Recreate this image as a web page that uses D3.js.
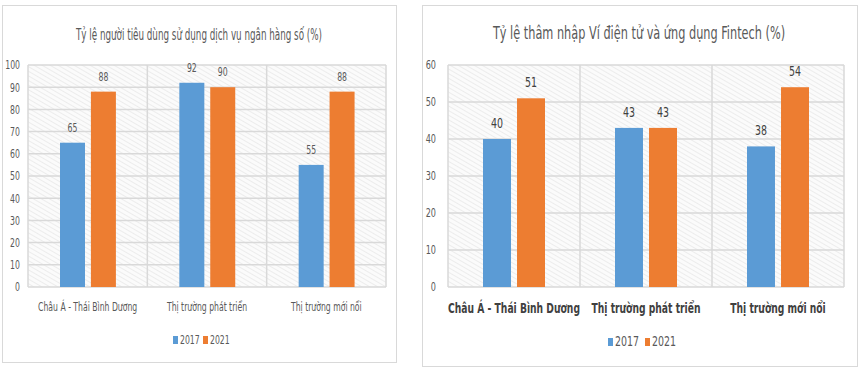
<!DOCTYPE html>
<html lang="vi">
<head>
  <meta charset="UTF-8">
  <title>Ngân hàng số &amp; Fintech</title>
  <script src="https://d3js.org/d3.v7.min.js"></script>
  <style>
    body { margin: 0; background: #fff; }
    text { font-family: "DejaVu Sans Condensed", "DejaVu Sans", sans-serif; }
  </style>
</head>
<body>
  <svg id="chart" width="861" height="369"></svg>
  <script>
    // data
    const categories = ['Châu Á - Thái Bình Dương', 'Thị trường phát triển', 'Thị trường mới nổi'];
    const years = ['2017', '2021'];
    const bank2017 = [65, 92, 55];
    const bank2021 = [88, 90, 88];
    const fintech2017 = [40, 43, 38];
    const fintech2021 = [51, 43, 54];
    const bankTicks = [0, 10, 20, 30, 40, 50, 60, 70, 80, 90, 100];
    const fintechTicks = [0, 10, 20, 30, 40, 50, 60];

    const colors = { '2017': '#5b9bd5', '2021': '#ed7d31' };

    const svg = d3.select('svg#chart');

    // squeeze text horizontally (reference font is much narrower)
    function squeeze(sel, k) {
      sel.each(function () {
        const t = d3.select(this);
        const x = +t.attr('x') || 0, y = +t.attr('y') || 0;
        t.attr('x', 0).attr('y', 0)
          .attr('transform', `translate(${x},${y}) scale(${k},1)`);
      });
    }

    // hatch pattern for plot background
    const defs = svg.append('defs');
    const pat = defs.append('pattern')
      .attr('id', 'hatch')
      .attr('patternUnits', 'userSpaceOnUse')
      .attr('width', 4).attr('height', 4)
      .attr('patternTransform', 'rotate(-60)');
    pat.append('rect').attr('width', 4).attr('height', 4).attr('fill', '#fbfbfb');
    pat.append('line').attr('x1', 0).attr('y1', 0).attr('x2', 0).attr('y2', 4)
      .attr('stroke', '#e2e2e2').attr('stroke-width', 1.2);

    function drawPanel(cfg) {
      const g = svg.append('g');

      // outer frame
      g.append('rect')
        .attr('x', cfg.frame[0] + 0.5).attr('y', cfg.frame[1] + 0.5)
        .attr('width', cfg.frame[2]).attr('height', cfg.frame[3])
        .attr('fill', '#fff').attr('stroke', '#d9d9d9').attr('stroke-width', 1);

      const x = d3.scaleBand().domain(categories).range([cfg.left, cfg.right]);
      const y = d3.scaleLinear().domain([0, cfg.max]).range([cfg.bottom, cfg.top]);
      const x1 = d3.scaleBand().domain(years)
        .range([cfg.barStart, cfg.barStart + cfg.barW * 2 + cfg.barGap])
        .paddingInner(cfg.barGap / (cfg.barW * 2 + cfg.barGap));

      // plot background
      g.append('rect')
        .attr('x', cfg.left).attr('y', cfg.top)
        .attr('width', cfg.right - cfg.left).attr('height', cfg.bottom - cfg.top)
        .attr('fill', 'url(#hatch)');

      // horizontal gridlines
      g.append('g').selectAll('line').data(cfg.ticks).join('line')
        .attr('x1', cfg.left).attr('x2', cfg.right)
        .attr('y1', d => y(d)).attr('y2', d => y(d))
        .attr('stroke', '#d9d9d9').attr('stroke-width', 1.5);

      // vertical separators
      const seps = [cfg.left].concat(categories.map(c => x(c) + x.bandwidth()));
      g.append('g').selectAll('line').data(seps).join('line')
        .attr('x1', d => d).attr('x2', d => d)
        .attr('y1', cfg.top).attr('y2', cfg.bottom)
        .attr('stroke', '#d9d9d9').attr('stroke-width', 1.5);

      // y tick labels
      const yAxis = g.append('g')
        .attr('transform', `translate(${cfg.left},0)`)
        .call(d3.axisLeft(y).tickValues(cfg.ticks).tickSize(0).tickPadding(cfg.tickPad));
      yAxis.select('.domain').remove();
      yAxis.attr('font-family', null);
      yAxis.selectAll('text')
        .attr('font-size', cfg.tickSize).attr('fill', '#595959')
        .call(squeeze, cfg.squeeze);

      // bars
      const rows = categories.map((c, i) => ({ cat: c, values: [cfg.s1[i], cfg.s2[i]] }));
      const grp = g.append('g').selectAll('g').data(rows).join('g')
        .attr('transform', d => `translate(${x(d.cat)},0)`);
      grp.selectAll('rect').data(d => d.values.map((v, j) => ({ year: years[j], v }))).join('rect')
        .attr('x', d => x1(d.year))
        .attr('width', x1.bandwidth())
        .attr('y', d => y(d.v))
        .attr('height', d => y(0) - y(d.v))
        .attr('fill', d => colors[d.year]);
      grp.selectAll('text').data(d => d.values.map((v, j) => ({ year: years[j], v }))).join('text')
        .attr('x', d => x1(d.year) + x1.bandwidth() / 2)
        .attr('y', d => y(d.v) - cfg.labelOff)
        .attr('text-anchor', 'middle')
        .attr('font-size', cfg.labelSize)
        .attr('fill', cfg.labelColor)
        .text(d => d.v)
        .call(squeeze, cfg.squeeze);

      // category labels
      g.append('g').selectAll('text').data(categories).join('text')
        .attr('x', d => x(d) + x.bandwidth() / 2)
        .attr('y', cfg.catY)
        .attr('text-anchor', 'middle')
        .attr('font-size', cfg.catSize)
        .attr('font-weight', cfg.catWeight)
        .attr('fill', cfg.catColor)
        .text(d => d)
        .call(squeeze, cfg.catSqueeze);

      // title
      g.append('text')
        .attr('x', cfg.titleX).attr('y', cfg.titleY)
        .attr('text-anchor', 'middle')
        .attr('font-size', cfg.titleSize)
        .attr('fill', '#595959')
        .text(cfg.title)
        .call(squeeze, cfg.titleSqueeze);

      // legend
      const lg = g.append('g').attr('transform', `translate(${cfg.legendX},${cfg.legendY})`);
      years.forEach((yr, i) => {
        const item = lg.append('g').attr('transform', `translate(${i * cfg.legendStep},0)`);
        item.append('rect').attr('x', 0).attr('y', -8).attr('width', 5).attr('height', 8)
          .attr('fill', colors[yr]);
        item.append('text').attr('x', 7).attr('y', 0)
          .attr('font-size', cfg.legendSize).attr('fill', '#595959').text(yr)
          .call(squeeze, cfg.squeeze);
      });
    }

    drawPanel({
      frame: [2, 5, 394, 357],
      left: 28, right: 386, top: 65, bottom: 287, max: 100,
      ticks: bankTicks, s1: bank2017, s2: bank2021,
      barStart: 32, barW: 22.6, barGap: 10.7,
      tickSize: 12, tickPad: 8, squeeze: 0.72,
      labelSize: 12, labelOff: 11, labelColor: '#595959',
      catY: 311, catSize: 13, catWeight: 'normal', catColor: '#595959', catSqueeze: 0.66,
      title: 'Tỷ lệ người tiêu dùng sử dụng dịch vụ ngân hàng số (%)',
      titleX: 199, titleY: 40, titleSize: 15, titleSqueeze: 0.65,
      legendX: 173, legendY: 344, legendStep: 30, legendSize: 12
    });

    drawPanel({
      frame: [422, 5, 435, 361],
      left: 448, right: 844, top: 65, bottom: 287, max: 60,
      ticks: fintechTicks, s1: fintech2017, s2: fintech2021,
      barStart: 35, barW: 25.5, barGap: 11,
      tickSize: 12, tickPad: 12, squeeze: 0.75,
      labelSize: 14, labelOff: 11, labelColor: '#404040',
      catY: 313, catSize: 14, catWeight: 'bold', catColor: '#404040', catSqueeze: 0.73,
      title: 'Tỷ lệ thâm nhập Ví điện tử và ứng dụng Fintech (%)',
      titleX: 639, titleY: 39, titleSize: 17, titleSqueeze: 0.74,
      legendX: 608, legendY: 346, legendStep: 37, legendSize: 14
    });
  </script>
</body>
</html>
